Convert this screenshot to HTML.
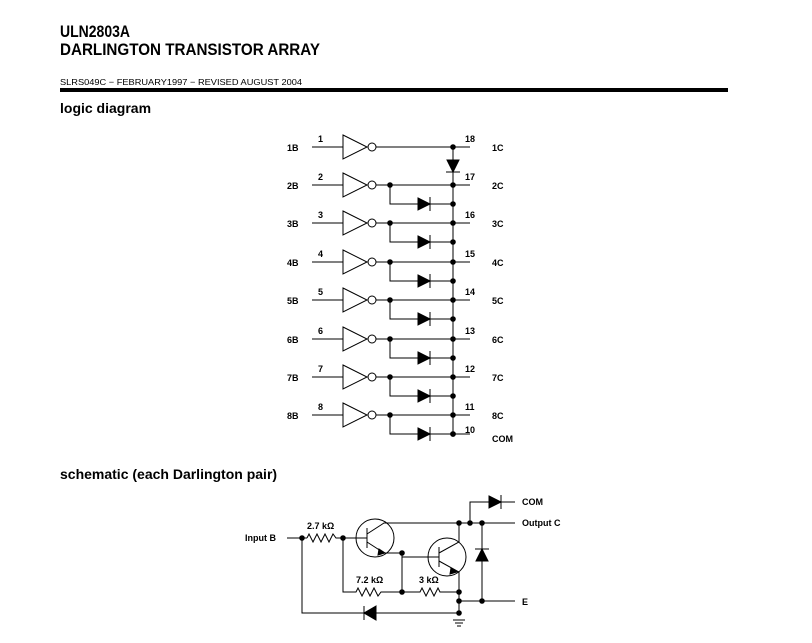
<!DOCTYPE html>
<html><head><meta charset="utf-8"><style>
body{margin:0;background:#fff;width:812px;height:643px;overflow:hidden}
svg{display:block}
text{font-family:"Liberation Sans",Arial,sans-serif;fill:#000}
.b{font-weight:bold}
</style></head><body>
<svg id="s" width="812" height="643" viewBox="0 0 812 643" stroke="#000" stroke-width="1" fill="none">
<text x="60" y="37" class="b" font-size="17" stroke="none" textLength="70" lengthAdjust="spacingAndGlyphs">ULN2803A</text>
<text x="60" y="55" class="b" font-size="17" stroke="none" textLength="260" lengthAdjust="spacingAndGlyphs">DARLINGTON TRANSISTOR ARRAY</text>
<text x="60" y="85" font-size="8.5" stroke="none" textLength="242" lengthAdjust="spacingAndGlyphs">SLRS049C − FEBRUARY1997 − REVISED AUGUST 2004</text>
<rect x="60" y="88" width="668" height="4" fill="#000" stroke="none"/>
<text x="60" y="113" class="b" font-size="14" stroke="none">logic diagram</text>
<text x="60" y="479" class="b" font-size="14" stroke="none">schematic (each Darlington pair)</text>
<g font-size="9" class="b" stroke="none">
<text x="287" y="151" class="b">1B</text><text x="287" y="189" class="b">2B</text><text x="287" y="227" class="b">3B</text><text x="287" y="266" class="b">4B</text><text x="287" y="304" class="b">5B</text><text x="287" y="343" class="b">6B</text><text x="287" y="381" class="b">7B</text><text x="287" y="419" class="b">8B</text>
<text x="318" y="142" class="b">1</text><text x="318" y="180" class="b">2</text><text x="318" y="218" class="b">3</text><text x="318" y="257" class="b">4</text><text x="318" y="295" class="b">5</text><text x="318" y="334" class="b">6</text><text x="318" y="372" class="b">7</text><text x="318" y="410" class="b">8</text>
<text x="465" y="142" class="b">18</text><text x="465" y="180" class="b">17</text><text x="465" y="218" class="b">16</text><text x="465" y="257" class="b">15</text><text x="465" y="295" class="b">14</text><text x="465" y="334" class="b">13</text><text x="465" y="372" class="b">12</text><text x="465" y="410" class="b">11</text><text x="465" y="433" class="b">10</text>
<text x="492" y="151" class="b">1C</text><text x="492" y="189" class="b">2C</text><text x="492" y="227" class="b">3C</text><text x="492" y="266" class="b">4C</text><text x="492" y="304" class="b">5C</text><text x="492" y="343" class="b">6C</text><text x="492" y="381" class="b">7C</text><text x="492" y="419" class="b">8C</text><text x="492" y="442" class="b">COM</text>
<text x="245" y="541" class="b">Input B</text>
<text x="307" y="529" class="b">2.7 kΩ</text>
<text x="356" y="583" class="b">7.2 kΩ</text>
<text x="419" y="583" class="b">3 kΩ</text>
<text x="522" y="505" class="b">COM</text>
<text x="522" y="526" class="b">Output C</text>
<text x="522" y="605" class="b">E</text>
</g>
<g id="g"></g>
</svg>
<script>
var g=document.getElementById('g'),h='';
function L(d){h+='<path d="'+d+'"/>';}
function F(d){h+='<path d="'+d+'" fill="#000"/>';}
function D(x,y){h+='<circle cx="'+x+'" cy="'+y+'" r="2.3" fill="#000"/>';}
var ys=[147,185,223,262,300,339,377,415];
ys.forEach(function(y,i){
 L('M312 '+y+'H343M343 '+(y-12)+'L367 '+y+'L343 '+(y+12)+'Z');
 h+='<circle cx="372" cy="'+y+'" r="4" fill="#fff"/>';
 L('M376 '+y+'H470');
 D(453,y);
 if(i>0){D(390,y);var yy=y+19;L('M390 '+y+'V'+yy+'H453');F('M418 '+(yy-6)+'L430 '+yy+'L418 '+(yy+6)+'Z');L('M430 '+(yy-7)+'V'+(yy+7));D(453,yy);}
});
F('M447 160L459 160L453 172Z');L('M446 172H460');
L('M453 147V434H470');D(453,434);
// schematic
L('M287 538H307');D(302,538);
L('M307 538l2-4l4 8l4-8l4 8l4-8l4 8l4-8l3 4H343');D(343,538);
h+='<circle cx="375" cy="538" r="19"/><circle cx="447" cy="557" r="19"/>';
L('M343 538H367M367 528V548M367 534L384 523H470M367 542L384 553H402V592');F('M379 549L385 553L378 555Z');D(402,553);
L('M402 557H439M439 547V567M439 553L459 542V523M439 561L459 572V615');F('M451 568L457 572L450 574Z');
L('M343 538V592H356l2-4l4 8l4-8l4 8l4-8l4 8l3-4H420l2-4l4 8l4-8l4 8l4-8l2 4H459');D(402,592);D(459,592);
D(459,523);D(470,523);D(482,523);L('M470 523H515M470 523V502H515');F('M489 496L501 502L489 508Z');L('M501 495V509');
L('M482 523V601');F('M476 561L482 549L488 561Z');L('M475 549H489');
L('M459 601H515');D(459,601);D(482,601);
L('M302 538V613H459');F('M376 606L364 613L376 620Z');L('M364 606V620');D(459,613);
L('M453 620H465M455 623H463M457 626H461');
g.innerHTML=h;
</script>
</body></html>
